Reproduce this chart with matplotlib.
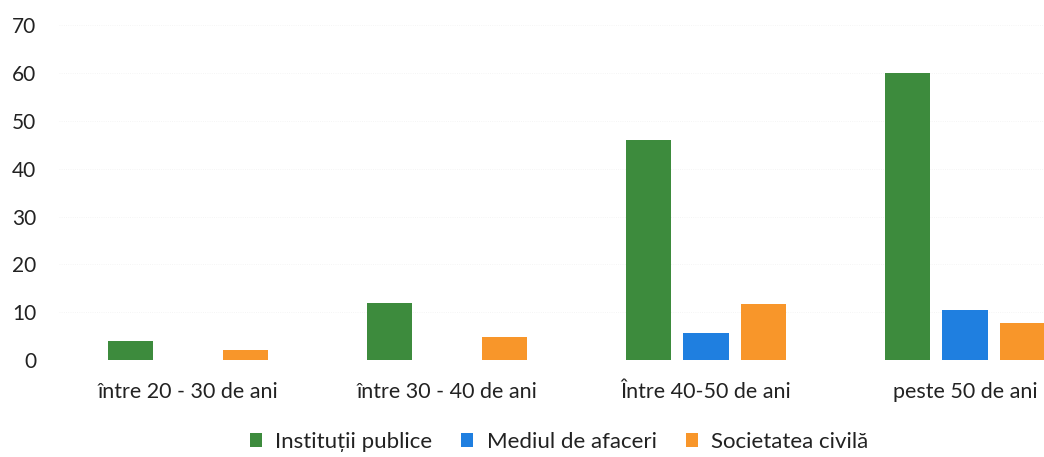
import numpy as np
import matplotlib.pyplot as plt

plt.rcParams['font.family'] = ['Lato', 'DejaVu Sans']

# Data
categories = ['între 20 - 30 de ani', 'între 30 - 40 de ani', 'Între 40-50 de ani', 'peste 50 de ani']
institutii = [4, 12, 46, 60]
afaceri = [0, 0, 5.6, 10.5]
societate = [2, 4.8, 11.8, 7.8]

series = [
    ('Instituții publice', institutii, '#3d8b3d'),
    ('Mediul de afaceri', afaceri, '#1f7fe0'),
    ('Societatea civilă', societate, '#f8962a'),
]

fig = plt.figure(figsize=(10.44, 4.57), dpi=100)
ax = fig.add_axes([58.5 / 1044, 97 / 457, (1044 - 58.5) / 1044, (360 - 25.4) / 457])

x = np.arange(len(categories))
step = 0.222
width = 0.174
for i, (name, vals, color) in enumerate(series):
    ax.bar(x + (i - 1) * step, vals, width=width, color=color, label=name, zorder=2)

ax.set_xlim(-0.5, 3.305)
ax.set_ylim(0, 70)
ax.set_yticks(range(0, 71, 10))
ax.set_xticks(x)
ax.set_xticklabels(categories)
ax.tick_params(axis='both', length=0, colors='#222222')
ax.tick_params(axis='y', pad=16, labelsize=15)
ax.tick_params(axis='x', pad=16, labelsize=15.5)
ax.grid(axis='y', color='#f2f2f2', linewidth=0.6, linestyle=':', zorder=0)
for s in ax.spines.values():
    s.set_visible(False)

leg = fig.legend(loc='center', bbox_to_anchor=(559 / 1044, 1 - 442 / 457), ncol=3,
                 frameon=False, fontsize=16, handlelength=0.55, handleheight=0.55,
                 handletextpad=0.6, columnspacing=1.3)
for t in leg.get_texts():
    t.set_color('#222222')

fig.savefig('out.png', dpi=100)
